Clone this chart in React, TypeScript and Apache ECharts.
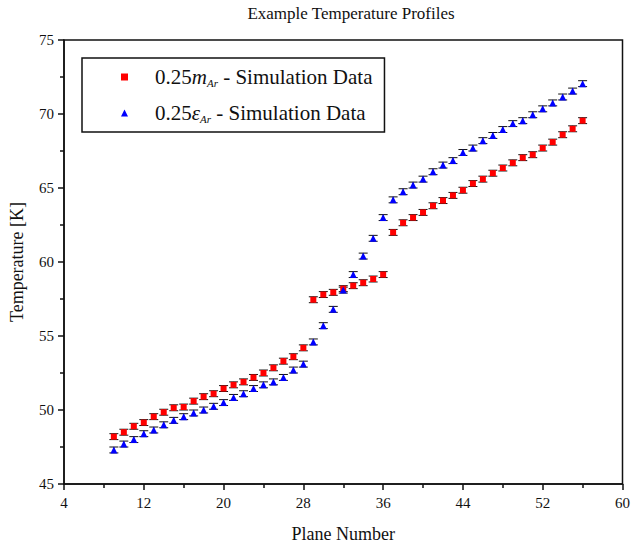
import React, { useEffect, useRef } from "react";
import * as echarts from "echarts";

const planes = [9, 10, 11, 12, 13, 14, 15, 16, 17, 18, 19, 20, 21, 22, 23, 24, 25, 26, 27, 28, 29, 30, 31, 32, 33, 34, 35, 36, 37, 38, 39, 40, 41, 42, 43, 44, 45, 46, 47, 48, 49, 50, 51, 52, 53, 54, 55, 56];
const massTemps = [48.2, 48.5, 48.9, 49.15, 49.55, 49.85, 50.15, 50.2, 50.6, 50.9, 51.1, 51.45, 51.7, 51.9, 52.2, 52.5, 52.85, 53.3, 53.6, 54.2, 57.45, 57.8, 57.95, 58.2, 58.4, 58.6, 58.85, 59.15, 62.0, 62.65, 63.0, 63.35, 63.8, 64.15, 64.5, 64.85, 65.3, 65.6, 66.0, 66.35, 66.7, 67.05, 67.25, 67.7, 68.1, 68.6, 69.0, 69.55];
const epsTemps = [47.3, 47.7, 48.0, 48.4, 48.65, 49.0, 49.3, 49.55, 49.8, 50.0, 50.25, 50.5, 50.85, 51.1, 51.45, 51.7, 51.9, 52.2, 52.7, 53.1, 54.6, 55.7, 56.8, 58.1, 59.15, 60.4, 61.6, 63.0, 64.2, 64.75, 65.2, 65.6, 66.1, 66.55, 66.85, 67.4, 67.7, 68.2, 68.55, 68.95, 69.35, 69.55, 69.95, 70.35, 70.75, 71.15, 71.55, 72.05];
const errorHalf = 0.2;
const seriesNames = ["mass", "eps"];
const titleText = "Example Temperature Profiles";
const xName = "Plane Number";
const yName = "Temperature [K]";

const FONT = "'Liberation Serif', 'Times New Roman', serif";

function errorSeries(values: number[]) {
  return {
    type: "custom",
    silent: true,
    z: 1,
    data: planes.map((p, i) => [p, values[i] - errorHalf, values[i] + errorHalf]),
    renderItem: (params: any, api: any) => {
      const lo = api.coord([api.value(0), api.value(1)]);
      const hi = api.coord([api.value(0), api.value(2)]);
      const w = 4.5;
      const style = { stroke: "#111", lineWidth: 1 };
      return {
        type: "group",
        children: [
          { type: "line", shape: { x1: lo[0], y1: lo[1], x2: hi[0], y2: hi[1] }, style },
          { type: "line", shape: { x1: lo[0] - w, y1: lo[1], x2: lo[0] + w, y2: lo[1] }, style },
          { type: "line", shape: { x1: hi[0] - w, y1: hi[1], x2: hi[0] + w, y2: hi[1] }, style },
        ],
      };
    },
  };
}

export default function App() {
  const ref = useRef<HTMLDivElement>(null);
  useEffect(() => {
    if (!ref.current) return;
    const chart = echarts.init(ref.current, null, { renderer: "svg" });
    const axisText = { color: "#111", fontFamily: FONT, fontSize: 15 };
    chart.setOption({
      animation: false,
      backgroundColor: "#fff",
      title: {
        text: titleText,
        left: 346,
        top: 0,
        textAlign: "center",
        textStyle: { fontFamily: FONT, fontSize: 17, fontWeight: "normal", color: "#111" },
      },
      grid: {
        left: 64,
        right: 8,
        top: 40,
        bottom: 60,
        show: true,
        borderColor: "#111",
        borderWidth: 1.5,
        backgroundColor: "transparent",
      },
      legend: {
        orient: "vertical",
        left: 82,
        top: 58,
        padding: [8, 12, 8, 39],
        itemGap: 14,
        itemWidth: 7,
        itemHeight: 7,
        borderColor: "#111",
        borderWidth: 1.5,
        data: [
          { name: seriesNames[0], icon: "rect" },
          { name: seriesNames[1], icon: "triangle" },
        ],
        formatter: (name: string) =>
          name === seriesNames[0]
            ? "0.25{i|m}{sub|Ar} - Simulation Data"
            : "0.25{i|ε}{sub|Ar} - Simulation Data",
        textStyle: {
          fontFamily: FONT,
          fontSize: 21,
          color: "#111",
          lineHeight: 22,
          padding: [0, 0, 0, 22],
          rich: {
            i: { fontFamily: FONT, fontSize: 21, fontStyle: "italic", color: "#111", lineHeight: 22 },
            sub: { fontFamily: FONT, fontSize: 11, fontStyle: "italic", color: "#111", verticalAlign: "bottom", lineHeight: 10 },
          },
        },
      },
      xAxis: {
        type: "value",
        min: 4,
        max: 60,
        interval: 8,
        name: xName,
        nameLocation: "middle",
        nameGap: 41,
        nameTextStyle: { fontFamily: FONT, fontSize: 18, color: "#111" },
        axisLine: { show: true, onZero: false, lineStyle: { color: "#111", width: 1.5 } },
        axisTick: { show: true, inside: false, length: 6, lineStyle: { color: "#111", width: 1.5 } },
        minorTick: { show: true, splitNumber: 2, length: 4, lineStyle: { color: "#111", width: 1.5 } },
        axisLabel: { ...axisText, margin: 11 },
        splitLine: { show: false },
      },
      yAxis: {
        type: "value",
        min: 45,
        max: 75,
        interval: 5,
        name: yName,
        nameLocation: "middle",
        nameGap: 38,
        nameTextStyle: { fontFamily: FONT, fontSize: 18, color: "#111" },
        axisLine: { show: true, onZero: false, lineStyle: { color: "#111", width: 1.5 } },
        axisTick: { show: true, inside: false, length: 6, lineStyle: { color: "#111", width: 1.5 } },
        minorTick: { show: true, splitNumber: 2, length: 4, lineStyle: { color: "#111", width: 1.5 } },
        axisLabel: { ...axisText, margin: 10 },
        splitLine: { show: false },
      },
      series: [
        errorSeries(massTemps),
        errorSeries(epsTemps),
        {
          name: seriesNames[0],
          type: "scatter",
          symbol: "rect",
          symbolSize: 6,
          z: 3,
          itemStyle: { color: "#ff0000", opacity: 1 },
          data: planes.map((p, i) => [p, massTemps[i]]),
        },
        {
          name: seriesNames[1],
          type: "scatter",
          symbol: "triangle",
          symbolSize: 7,
          z: 3,
          itemStyle: { color: "#0000ff", opacity: 1 },
          data: planes.map((p, i) => [p, epsTemps[i]]),
        },
      ],
    });
    return () => chart.dispose();
  }, []);
  return <div ref={ref} style={{ width: 633, height: 548, position: "absolute", left: 0, top: 0 }} />;
}
